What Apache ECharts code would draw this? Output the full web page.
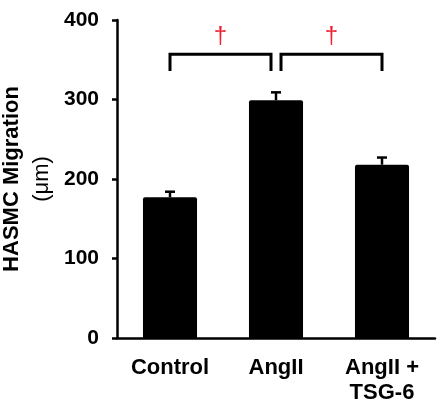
<!DOCTYPE html>
<html>
<head>
<meta charset="utf-8">
<script src="https://cdn.jsdelivr.net/npm/echarts@6/dist/echarts.min.js"></script>
<style>
  html, body { margin: 0; padding: 0; background: #fff; }
  #main { width: 444px; height: 406px; }
</style>
</head>
<body>
<div id="main"></div>
<script>
// data
var categories = ['Control', 'AngII', 'AngII +\nTSG-6'];
var migration = [177, 299, 218];
var migrationErr = [7, 10, 9];
var yTicks = [0, 100, 200, 300, 400];
// significance brackets: pairs of category indexes, with the mark shown above
var sigPairs = [[0, 1], [1, 2]];
var sigMarks = ['\u2020', '\u2020'];
var bracketTop = 357, bracketFoot = 336, markLevel = 380;

var font = '"Liberation Sans", Arial, Helvetica, sans-serif';

var chart = echarts.init(document.getElementById('main'));

var errData = [];
for (var i = 0; i < migration.length; i++) {
    errData.push([i, migration[i], migration[i] + migrationErr[i]]);
}
var sigData = [];
for (var j = 0; j < sigPairs.length; j++) {
    sigData.push([sigPairs[j][0], sigPairs[j][1], bracketTop, bracketFoot, markLevel]);
}

var option = {
    animation: false,
    backgroundColor: '#fff',
    grid: { left: 117, right: 9, top: 20, bottom: 68, outerBoundsMode: 'none' },
    xAxis: {
        type: 'category',
        data: categories,
        axisLine: { lineStyle: { color: '#000', width: 2.5 } },
        axisTick: { show: false },
        axisLabel: {
            interval: 0,
            color: '#000',
            fontFamily: font,
            fontWeight: 'bold',
            fontSize: 22,
            lineHeight: 25,
            margin: 17
        }
    },
    yAxis: {
        type: 'value',
        min: yTicks[0],
        max: yTicks[yTicks.length - 1],
        interval: 100,
        name: '{a|HASMC Migration}\n{b|(\u03bcm)}',
        nameLocation: 'middle',
        nameRotate: 90,
        nameGap: 59,
        nameTextStyle: {
            color: '#000',
            fontFamily: font,
            rich: {
                a: { fontSize: 22, fontWeight: 'bold', fontFamily: font, color: '#000', lineHeight: 30 },
                b: { fontSize: 22, fontWeight: 'normal', fontFamily: font, color: '#000', lineHeight: 30 }
            }
        },
        axisLine: { show: true, lineStyle: { color: '#000', width: 2.5 } },
        axisTick: { show: true, length: 5, lineStyle: { color: '#000', width: 2.5 } },
        splitLine: { show: false },
        axisLabel: {
            color: '#000',
            fontFamily: font,
            fontWeight: 'bold',
            fontSize: 21,
            margin: 18
        }
    },
    series: [{
        type: 'bar',
        data: migration,
        barWidth: '51%',
        itemStyle: { color: '#000', borderRadius: [2, 2, 0, 0] },
        z: 2
    }, {
        // error bars (upper only, the lower half is hidden by the bar)
        type: 'custom',
        data: errData,
        z: 3,
        renderItem: function (params, api) {
            var base = api.coord([api.value(0), api.value(1)]);
            var top = api.coord([api.value(0), api.value(2)]);
            var half = 5;
            var st = { stroke: '#000', lineWidth: 2.5 };
            return {
                type: 'group',
                children: [
                    { type: 'line', shape: { x1: base[0], y1: base[1], x2: top[0], y2: top[1] }, style: st },
                    { type: 'line', shape: { x1: top[0] - half, y1: top[1], x2: top[0] + half, y2: top[1] }, style: st }
                ]
            };
        }
    }, {
        // significance brackets with daggers
        type: 'custom',
        data: sigData,
        z: 3,
        clip: false,
        renderItem: function (params, api) {
            var inset = 5;
            var a = api.coord([api.value(0), api.value(2)]);
            var b = api.coord([api.value(1), api.value(2)]);
            var foot = api.coord([api.value(0), api.value(3)])[1];
            var x1 = a[0] + (params.dataIndex > 0 ? inset : 0);
            var x2 = b[0] - (params.dataIndex < sigData.length - 1 ? inset : 0);
            var y = a[1];
            var markY = api.coord([api.value(0), api.value(4)])[1];
            return {
                type: 'group',
                children: [{
                    type: 'polyline',
                    shape: { points: [[x1, foot], [x1, y], [x2, y], [x2, foot]] },
                    style: { stroke: '#000', lineWidth: 3, fill: null, lineJoin: 'miter' }
                }, {
                    type: 'text',
                    x: (x1 + x2) / 2,
                    y: markY,
                    style: {
                        text: sigMarks[params.dataIndex],
                        fill: '#ee2233',
                        font: '24px ' + font,
                        align: 'center',
                        verticalAlign: 'middle'
                    }
                }]
            };
        }
    }]
};

chart.setOption(option);
</script>
</body>
</html>
